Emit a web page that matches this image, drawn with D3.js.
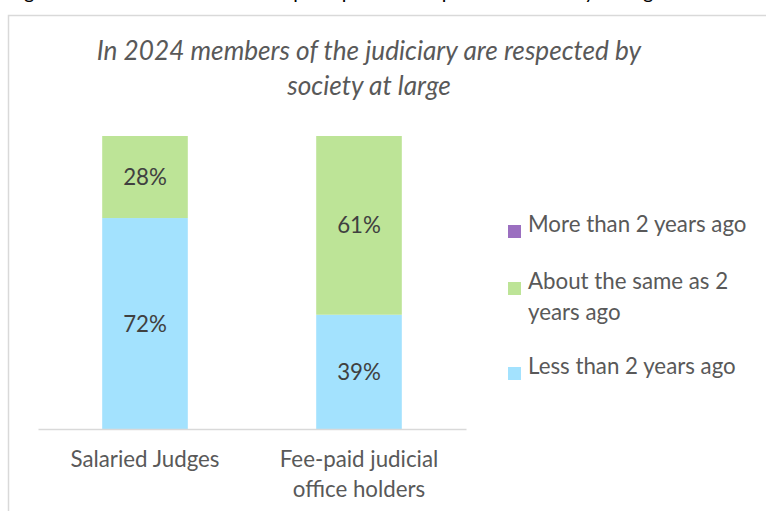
<!DOCTYPE html>
<html>
<head>
<meta charset="utf-8">
<script src="https://cdn.jsdelivr.net/npm/d3@7"></script>
<style>
  html, body { margin: 0; padding: 0; background: #fff; }
  svg { display: block; }
  text { font-family: Lato, "Open Sans", sans-serif; }
</style>
</head>
<body>
<svg id="chart" width="766" height="511"></svg>
<script>
// Respondent groups
const categories = ["Salaried Judges", "Fee-paid judicial office holders"];
const categoryLines = [["Salaried Judges"], ["Fee-paid judicial", "office holders"]];

// Series (stack order bottom to top)
const seriesNames = ["Less than 2 years ago", "About the same as 2 years ago", "More than 2 years ago"];
const lessThan2 = [72, 39];
const aboutSame = [28, 61];
const moreThan2 = [0, 0];

// Legend order top to bottom
const legendOrder = ["More than 2 years ago", "About the same as 2 years ago", "Less than 2 years ago"];
const legendLines = {
  "More than 2 years ago": ["More than 2 years ago"],
  "About the same as 2 years ago": ["About the same as 2", "years ago"],
  "Less than 2 years ago": ["Less than 2 years ago"]
};

const titleLines = ["In 2024 members of the judiciary are respected by", "society at large"];
const captionText = "Figure 21: Rates of the common perception of respect from society at large";

const colors = {
  "Less than 2 years ago": "#a3e2fe",
  "About the same as 2 years ago": "#bde497",
  "More than 2 years ago": "#9b6fc0"
};

const textSize = 22.3;
const svg = d3.select("#chart");

// caption line above the chart frame (only its lower part is in view)
svg.append("text")
  .attr("x", 8).attr("y", -1)
  .attr("font-size", 20)
  .attr("fill", "#000")
  .text(captionText);

// chart frame
svg.append("rect")
  .attr("x", 8.5).attr("y", 15.5)
  .attr("width", 800).attr("height", 600)
  .attr("fill", "#fff")
  .attr("stroke", "#d9d9d9").attr("stroke-width", 1.5);

// title
svg.append("text")
  .attr("x", 369).attr("y", 60)
  .attr("text-anchor", "middle")
  .attr("font-size", 26.2)
  .attr("font-style", "italic")
  .attr("fill", "#595959")
  .selectAll("tspan").data(titleLines).join("tspan")
  .attr("x", 369).attr("dy", (d, i) => i === 0 ? 0 : 35)
  .text(d => d);

// scales
const x = d3.scaleBand().domain(categories).range([38, 466]).paddingInner(0.6).paddingOuter(0.3);
const y = d3.scaleLinear().domain([0, 100]).range([429, 136]);

const rows = categories.map((c, i) => ({
  category: c,
  "Less than 2 years ago": lessThan2[i],
  "About the same as 2 years ago": aboutSame[i],
  "More than 2 years ago": moreThan2[i]
}));
const stacked = d3.stack().keys(seriesNames)(rows);

const layers = svg.append("g").selectAll("g").data(stacked).join("g")
  .attr("fill", d => colors[d.key]);

layers.selectAll("rect").data(d => d).join("rect")
  .attr("x", d => x(d.data.category))
  .attr("width", x.bandwidth())
  .attr("y", d => y(d[1]))
  .attr("height", d => y(d[0]) - y(d[1]));

// value labels
layers.selectAll("text.val").data(d => d.filter(v => v[1] - v[0] > 0)).join("text")
  .attr("class", "val")
  .attr("x", d => x(d.data.category) + x.bandwidth() / 2)
  .attr("y", d => (y(d[0]) + y(d[1])) / 2)
  .attr("dy", "0.36em")
  .attr("text-anchor", "middle")
  .attr("font-size", textSize)
  .attr("fill", "#404040")
  .text(d => (d[1] - d[0]) + "%");

// category axis
const axis = svg.append("g").attr("transform", "translate(0,429)")
  .call(d3.axisBottom(x).tickSize(0).tickFormat(""));
axis.select(".domain").attr("stroke", "#d9d9d9").attr("stroke-width", 1.5);

const catLabels = svg.append("g").selectAll("text").data(categories).join("text")
  .attr("x", d => x(d) + x.bandwidth() / 2)
  .attr("y", 467)
  .attr("text-anchor", "middle")
  .attr("font-size", textSize)
  .attr("fill", "#595959");
catLabels.selectAll("tspan").data((d, i) => categoryLines[i]).join("tspan")
  .attr("x", function() { return d3.select(this.parentNode).attr("x"); })
  .attr("dy", (d, i) => i === 0 ? 0 : 30)
  .text(d => d);

// legend
const legendY = [232, 289, 374];
const legend = svg.append("g").selectAll("g").data(legendOrder).join("g")
  .attr("transform", (d, i) => `translate(508,${legendY[i]})`);
legend.append("rect")
  .attr("x", 0).attr("y", -7)
  .attr("width", 13).attr("height", 13)
  .attr("fill", d => colors[d]);
legend.append("text")
  .attr("x", 20).attr("y", 0)
  .attr("font-size", textSize)
  .attr("fill", "#595959")
  .selectAll("tspan").data(d => legendLines[d]).join("tspan")
  .attr("x", 20).attr("dy", (d, i) => i === 0 ? 0 : 31)
  .text(d => d);
</script>
</body>
</html>
